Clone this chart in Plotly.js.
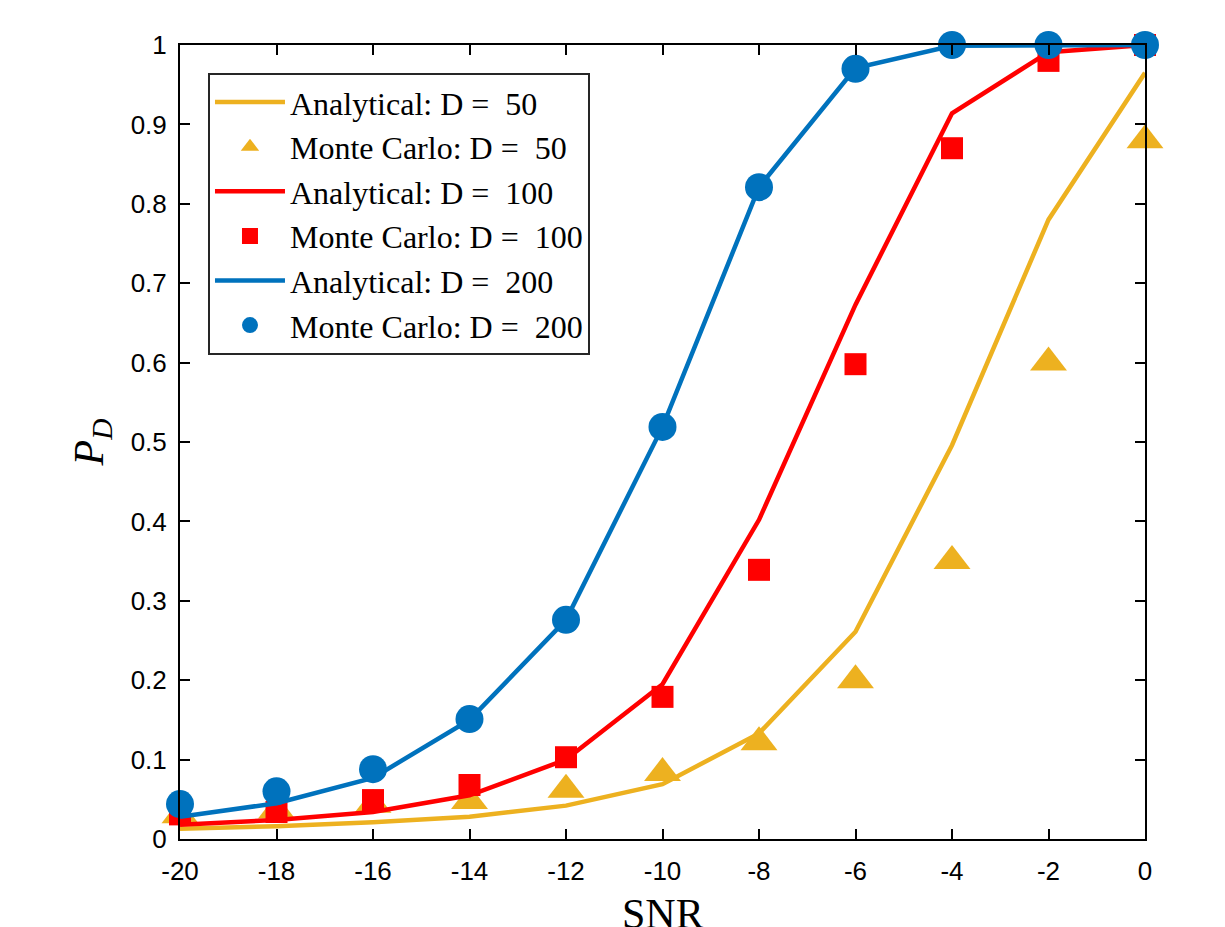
<!DOCTYPE html>
<html>
<head>
<meta charset="utf-8">
<script src="https://cdn.plot.ly/plotly-3.0.1.min.js"></script>
<style>html,body{margin:0;padding:0;background:#fff;}#plot{width:1225px;height:927px;}</style>
</head>
<body>
<div id="plot"></div>
<script>
const snr = [-20, -18, -16, -14, -12, -10, -8, -6, -4, -2, 0];

const analytical50 = [0.013, 0.016, 0.021, 0.028, 0.042, 0.069, 0.133, 0.261, 0.496, 0.780, 0.965];
const monteCarlo50 = [0.030, 0.036, 0.043, 0.048, 0.062, 0.083, 0.122, 0.200, 0.350, 0.600, 0.880];

const analytical100 = [0.018, 0.024, 0.034, 0.055, 0.100, 0.195, 0.402, 0.673, 0.914, 0.991, 1.000];
const monteCarlo100 = [0.031, 0.034, 0.049, 0.068, 0.103, 0.179, 0.339, 0.598, 0.870, 0.980, 1.000];

const analytical200 = [0.028, 0.045, 0.077, 0.150, 0.276, 0.519, 0.821, 0.971, 0.999, 1.000, 1.000];
const monteCarlo200 = [0.044, 0.060, 0.088, 0.151, 0.276, 0.519, 0.821, 0.970, 1.000, 1.000, 1.000];

const xTicks = [-20, -18, -16, -14, -12, -10, -8, -6, -4, -2, 0];
const yTicks = [0, 0.1, 0.2, 0.3, 0.4, 0.5, 0.6, 0.7, 0.8, 0.9, 1];
const yTickLabels = ['0', '0.1', '0.2', '0.3', '0.4', '0.5', '0.6', '0.7', '0.8', '0.9', '1'];
const xTitle = 'SNR';

const cYellow = '#EDB120', cRed = '#FF0000', cBlue = '#0072BD';

const traces = [
  {x: snr, y: analytical50, mode: 'lines', name: 'Analytical: D =\u00a0 50', line: {color: cYellow, width: 4.5}},
  {x: snr, y: monteCarlo50, mode: 'markers', name: 'Monte Carlo: D =\u00a0 50', cliponaxis: false, marker: {symbol: 'triangle-up', color: cYellow, size: 32}},
  {x: snr, y: analytical100, mode: 'lines', name: 'Analytical: D =\u00a0 100', line: {color: cRed, width: 4.5}},
  {x: snr, y: monteCarlo100, mode: 'markers', name: 'Monte Carlo: D =\u00a0 100', cliponaxis: false, marker: {symbol: 'square', color: cRed, size: 22}},
  {x: snr, y: analytical200, mode: 'lines', name: 'Analytical: D =\u00a0 200', line: {color: cBlue, width: 4.5}},
  {x: snr, y: monteCarlo200, mode: 'markers', name: 'Monte Carlo: D =\u00a0 200', cliponaxis: false, marker: {symbol: 'circle', color: cBlue, size: 28}}
];

const layout = {
  width: 1225, height: 927,
  paper_bgcolor: '#fff', plot_bgcolor: '#fff',
  margin: {l: 180, r: 80, t: 45, b: 88},
  font: {family: 'Liberation Sans, Arial, sans-serif', size: 26, color: '#000'},
  xaxis: {
    range: [-20, 0], tickvals: xTicks, ticktext: xTicks.map(String),
    ticks: 'inside', ticklen: 10, tickwidth: 2, tickcolor: '#000',
    showline: true, linewidth: 2, linecolor: '#000', mirror: 'ticks',
    showgrid: false, zeroline: false, ticklabelstandoff: 8,
    tickfont: {family: 'Liberation Sans, Arial, sans-serif', size: 26}
  },
  yaxis: {
    range: [0, 1], tickvals: yTicks, ticktext: yTickLabels,
    ticks: 'inside', ticklen: 10, tickwidth: 2, tickcolor: '#000',
    showline: true, linewidth: 2, linecolor: '#000', mirror: 'ticks',
    showgrid: false, zeroline: false, ticklabelstandoff: 6,
    tickfont: {family: 'Liberation Sans, Arial, sans-serif', size: 26},
    title: {text: '<i>P</i><sub><i>D</i></sub>', font: {family: 'Liberation Serif, Times New Roman, serif', size: 42}, standoff: 14}
  },
  annotations: [{
    text: xTitle, xref: 'paper', yref: 'paper', x: 0.5, y: -0.063,
    xanchor: 'center', yanchor: 'top', showarrow: false,
    font: {family: 'Liberation Serif, Times New Roman, serif', size: 42, color: '#000'}
  }],
  showlegend: true,
  legend: {
    x: 0.029, y: 0.965, xanchor: 'left', yanchor: 'top',
    bgcolor: '#fff', bordercolor: '#262626', borderwidth: 2,
    font: {family: 'Liberation Serif, Times New Roman, serif', size: 32, color: '#000'},
    itemwidth: 70, tracegroupgap: 0
  }
};

Plotly.newPlot('plot', traces, layout, {displayModeBar: false, staticPlot: true});
</script>
</body>
</html>
